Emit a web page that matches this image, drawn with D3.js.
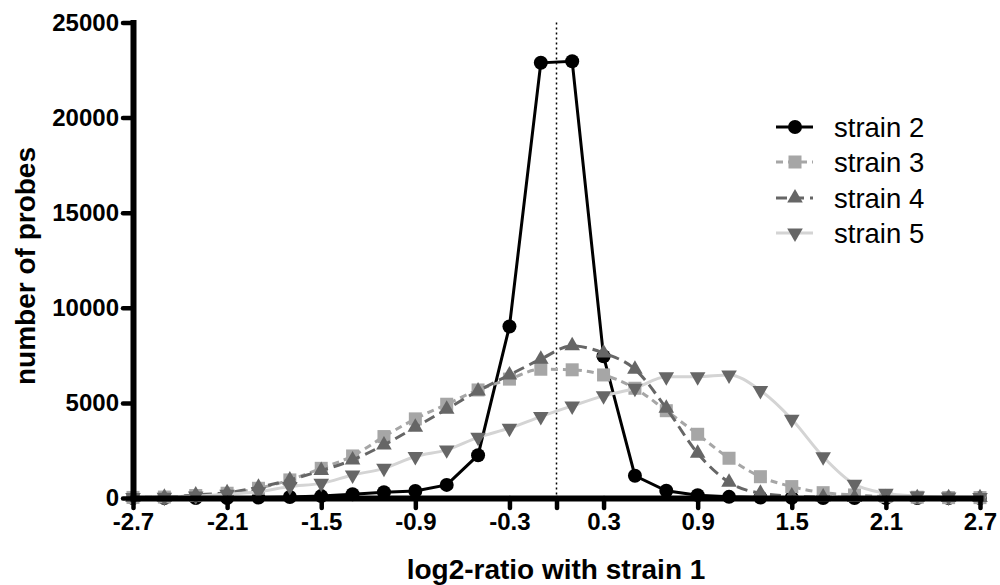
<!DOCTYPE html>
<html><head><meta charset="utf-8">
<script src="https://cdn.jsdelivr.net/npm/d3@7"></script>
<style>body{margin:0;background:#fff} text{font-family:"Liberation Sans",Arial,sans-serif}</style>
</head><body><svg id="c" width="1000" height="585"></svg>
<script>
const xValues = [-2.7,-2.5,-2.3,-2.1,-1.9,-1.7,-1.5,-1.3,-1.1,-0.9,-0.7,-0.5,-0.3,-0.1,0.1,0.3,0.5,0.7,0.9,1.1,1.3,1.5,1.7,1.9,2.1,2.3,2.5,2.7];
const strain2 = [0,0,0,0,20,50,100,200,300,370,690,2250,9020,22880,22960,7450,1170,380,150,60,30,10,0,0,0,0,0,0];
const strain3 = [30,50,130,250,510,950,1560,2210,3230,4160,4930,5680,6250,6770,6740,6470,5770,4590,3350,2090,1120,600,280,160,80,40,20,20];
const strain4 = [20,40,160,280,560,950,1440,2000,2790,3720,4670,5630,6470,7300,8000,7620,6770,4720,2350,830,250,100,50,30,20,20,20,20];
const strain5 = [20,40,100,200,330,600,770,1210,1560,2180,2530,3190,3670,4280,4840,5370,5770,6380,6380,6470,5650,4140,2170,720,250,100,50,30];
const seriesNames = ["strain 2","strain 3","strain 4","strain 5"];
const xTicks = [-2.7,-2.1,-1.5,-0.9,-0.3,0.3,0.9,1.5,2.1,2.7];
const yTicks = [0,5000,10000,15000,20000,25000];

const svg = d3.select("#c");
const x = d3.scaleLinear().domain([-2.7,2.7]).range([133,980]);
const y = d3.scaleLinear().domain([0,25000]).range([498,22.5]);

const styles = [
  {data: strain2, line:"#000", dash:null, mColor:"#000", sym:"circle", curve:d3.curveLinear},
  {data: strain3, line:"#a6a6a6", dash:"7,5", mColor:"#a6a6a6", sym:"square", curve:d3.curveMonotoneX},
  {data: strain4, line:"#666", dash:"11,6", mColor:"#666", sym:"tri", curve:d3.curveMonotoneX},
  {data: strain5, line:"#d4d4d4", dash:null, mColor:"#666", sym:"tridown", curve:d3.curveMonotoneX}
];

function drawMarker(g, sym, cx, cy, color){
  if(sym==="circle") g.append("circle").attr("cx",cx).attr("cy",cy).attr("r",7).attr("fill",color);
  else if(sym==="square") g.append("rect").attr("x",cx-6.5).attr("y",cy-6.5).attr("width",13).attr("height",13).attr("fill",color);
  else {
    const p = d3.symbol().type(d3.symbolTriangle).size(105)();
    g.append("path").attr("d",p).attr("fill",color)
     .attr("transform",`translate(${cx},${cy})${sym==="tridown"?" rotate(180)":""}`);
  }
}

// dotted zero line
svg.append("line").attr("x1",x(0)).attr("x2",x(0)).attr("y1",y(25000)).attr("y2",y(0))
  .attr("stroke","#000").attr("stroke-width",1.5).attr("stroke-dasharray","2,3");

// series
styles.forEach(s=>{
  const g = svg.append("g");
  const line = d3.line().x((d,i)=>x(xValues[i])).y(d=>y(d)).curve(s.curve);
  g.append("path").attr("d",line(s.data)).attr("fill","none").attr("stroke",s.line)
    .attr("stroke-width",3).attr("stroke-dasharray",s.dash);
  s.data.forEach((v,i)=>drawMarker(g,s.sym,x(xValues[i]),y(v),s.mColor));
});

// axes
const yAxis = d3.axisLeft(y).tickValues(yTicks).tickSize(10).tickSizeOuter(0).tickPadding(4).tickFormat(d=>String(d));
const gy = svg.append("g").attr("transform",`translate(${x(-2.7)},0)`).call(yAxis);
const xAxis = d3.axisBottom(x).tickValues(xTicks.concat([0])).tickSize(10).tickSizeOuter(0).tickPadding(5)
  .tickFormat(d=> d===0 ? "" : d.toFixed(1));
const gx = svg.append("g").attr("transform",`translate(0,${y(0)})`).call(xAxis);
[gx,gy].forEach(g=>{
  g.select(".domain").attr("stroke","#000").attr("stroke-width",6).attr("stroke-linecap","square");
  g.selectAll(".tick line").attr("stroke","#000").attr("stroke-width",4.5).attr("stroke-linecap","round");
  g.selectAll(".tick text").attr("fill","#000").attr("font-size",24).attr("font-weight","bold")
    .attr("font-family",'"Liberation Sans",Arial,sans-serif');
});

// titles
svg.append("text").attr("x",556).attr("y",579).attr("text-anchor","middle")
  .attr("font-size",28).attr("font-weight","bold").text("log2-ratio with strain 1");
svg.append("text").attr("transform","translate(35,266) rotate(-90)").attr("text-anchor","middle")
  .attr("font-size",28).attr("font-weight","bold").text("number of probes");

// legend
const ly = [127,162,198,233];
styles.forEach((s,i)=>{
  const g = svg.append("g");
  g.append("line").attr("x1",776).attr("x2",813).attr("y1",ly[i]).attr("y2",ly[i])
    .attr("stroke",s.line).attr("stroke-width",3).attr("stroke-dasharray",s.dash);
  drawMarker(g,s.sym,795,ly[i],s.mColor);
  g.append("text").attr("x",834).attr("y",ly[i]).attr("dy","0.35em").attr("font-size",27.5)
    .text(seriesNames[i]);
});
</script></body></html>
